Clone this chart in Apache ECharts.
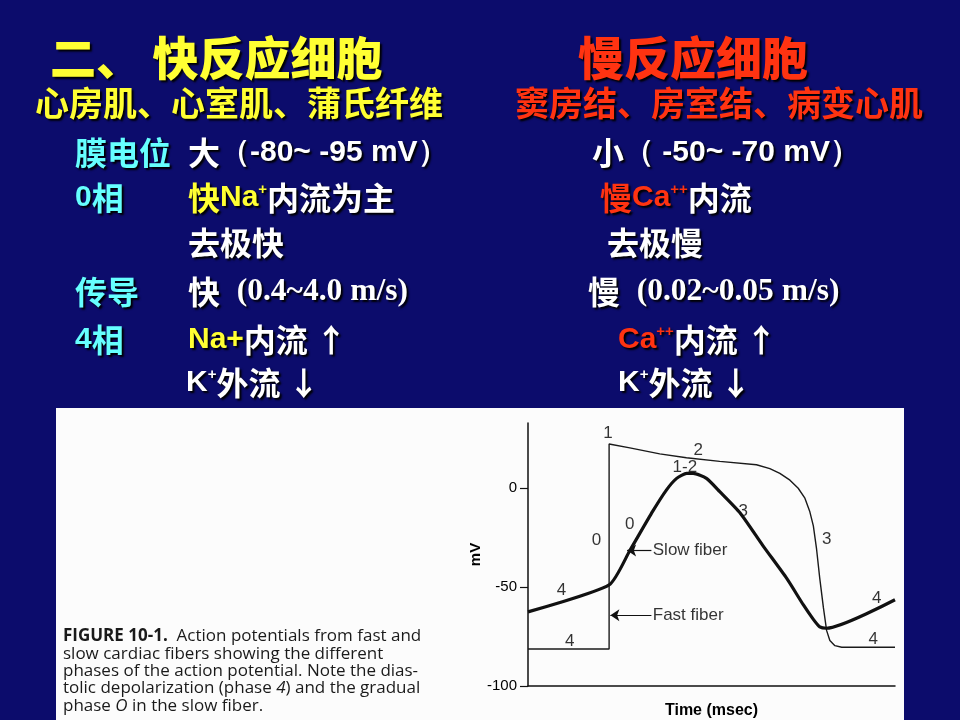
<!DOCTYPE html>
<html>
<head>
<meta charset="utf-8">
<script src="https://cdn.jsdelivr.net/npm/echarts@6/dist/echarts.min.js"></script>
<style>
  html, body { margin: 0; padding: 0; background: #0c0c6c; }
  #main { width: 960px; height: 720px; }
</style>
</head>
<body>
<div id="main"></div>
<script>
/* 快反应细胞（fast fiber）动作电位: 时间(msec) / 膜电位(mV) */
const fastTime = [0, 88.4, 88.4, 111, 143.6, 172.7, 209, 249, 263.6, 274.5, 285.5, 294.5, 301.8, 307, 311, 314.5, 318, 322, 325.5, 329, 334.5, 342, 400];
const fastMV   = [-81.3, -81.3, 22.4, 20.4, 17.4, 15.4, 13.6, 11.9, 9.9, 7.5, 4.1, 0, -5, -11.6, -19, -30.7, -45.6, -60.5, -72, -77, -79.6, -80.4, -80.4];

/* 慢反应细胞（slow fiber） */
const slowTime = [0, 88.4, 111, 136, 151, 162, 173, 180, 194.5, 209, 231, 256, 282, 300, 311, 318, 325.5, 400];
const slowMV   = [-62.5, -48.9, -31.5, -11.6, -0.8, 5, 7.5, 7.5, 5, -1.7, -12.4, -29, -45.6, -58.9, -66.3, -70.1, -70.8, -56.4];

const yTicks = [-100, -50, 0];

/* 相位标注 [t, mV, 文字] */
const phaseLabels = [
  [87.3, 27.7, '1'], [185.5, 19.4, '2'], [171, 10.4, '1-2'],
  [74.5, -26.5, '0'], [111, -18.2, '0'], [234.5, -11.6, '3'], [325.5, -25.7, '3'],
  [36.4, -51.4, '4'], [45.5, -77.4, '4'], [380, -55.6, '4'], [376.4, -76.3, '4']
];
/* 箭头 [起点t, 终点t, mV, 文字] */
const arrows = [
  [134.5, 108, -31.5, 'Slow fiber'],
  [134.5, 89.8, -64.2, 'Fast fiber']
];

const captionLines = [
  '{b|FIGURE 10-1.}  Action potentials from fast and',
  'slow cardiac fibers showing the different',
  'phases of the action potential. Note the dias-',
  'tolic depolarization (phase {i|4}) and the gradual',
  'phase {i|O} in the slow fiber.'
];

const CJK = '"Noto Sans CJK SC", sans-serif';
const NARROW = '"Liberation Sans Narrow", "Liberation Sans", Arial, sans-serif';
const shadow = { textShadowColor: '#000', textShadowBlur: 2, textShadowOffsetX: 2, textShadowOffsetY: 2 };

function tok(color, font, size, extra) {
  return Object.assign({ fill: color, fontFamily: font, fontSize: size, fontWeight: 'bold' }, shadow, extra || {});
}
const rich = {
  c:   tok('#66ffff', CJK, 32),
  cl:  tok('#66ffff', NARROW, 30),
  w:   tok('#ffffff', CJK, 32),
  wl:  tok('#ffffff', NARROW, 30),
  ws:  tok('#ffffff', NARROW, 15, { verticalAlign: 'top' }),
  y:   tok('#ffff33', CJK, 32),
  yl:  tok('#ffff33', NARROW, 30),
  ys:  tok('#ffff33', NARROW, 15, { verticalAlign: 'top' }),
  r:   tok('#ff3311', CJK, 32),
  rl:  tok('#ff3311', NARROW, 30),
  rs:  tok('#ff3311', NARROW, 15, { verticalAlign: 'top' }),
  ser: tok('#ffffff', '"Liberation Serif", "Times New Roman", serif', 31.5)
};

function row(x, y, text) {
  return { type: 'text', x: x, y: y, z: 10,
    style: Object.assign({ text: text, rich: rich, verticalAlign: 'middle' }, shadow) };
}
function head(x, y, text, color, size, weight) {
  return { type: 'text', x: x, y: y, z: 10,
    style: Object.assign({ text: text, fill: color, fontFamily: CJK, fontSize: size, fontWeight: weight, verticalAlign: 'middle' }, shadow) };
}

const slideText = [
  head(50, 58, '二、 快反应细胞', '#ffff33', 46, 900),
  head(578, 58, '慢反应细胞', '#ff3311', 46, 900),
  head(35, 103, '心房肌、心室肌、蒲氏纤维', '#ffff33', 34, 'bold'),
  head(515, 103, '窦房结、房室结、病变心肌', '#ff3311', 34, 'bold'),
  row(75, 153, '{c|膜电位}'),
  row(188, 153, '{w|大}{wl|（-80~ -95 mV）}'),
  row(592, 153, '{w|小}{wl|（ -50~ -70 mV）}'),
  row(75, 198, '{cl|0}{c|相}'),
  row(188, 198, '{y|快}{yl|Na}{ys|+}{w|内流为主}'),
  row(600, 198, '{r|慢}{rl|Ca}{rs|++}{w|内流}'),
  row(188, 243, '{w|去极快}'),
  row(607, 243, '{w|去极慢}'),
  row(75, 292, '{c|传导}'),
  row(188, 292, '{w|快}{wl|  }{ser|(0.4~4.0 m/s)}'),
  row(588, 292, '{w|慢}{wl|  }{ser|(0.02~0.05 m/s)}'),
  row(75, 340, '{cl|4}{c|相}'),
  row(188, 340, '{yl|Na+}{w|内流 ↑}'),
  row(618, 340, '{rl|Ca}{rs|++}{w|内流 ↑}'),
  row(186, 383, '{wl|K}{ws|+}{w|外流 ↓}'),
  row(618, 383, '{wl|K}{ws|+}{w|外流 ↓}')
];

const capFont = '"Open Sans", sans-serif';
const caption = {
  type: 'text', x: 63, y: 628, z: 10,
  style: {
    text: captionLines.join('\n'),
    fill: '#1a1a1a', fontFamily: capFont, fontSize: 17, lineHeight: 17.3,
    rich: {
      b: { fontWeight: 'bold', fontFamily: capFont, fontSize: 17, fill: '#1a1a1a' },
      i: { fontStyle: 'italic', fontFamily: capFont, fontSize: 17, fill: '#1a1a1a' }
    }
  }
};

const labelFont = 'Liberation Sans, Arial, sans-serif';
const chart = echarts.init(document.getElementById('main'));
chart.setOption({
  backgroundColor: '#0c0c6c',
  animation: false,
  graphic: [
    { type: 'rect', shape: { x: 56, y: 408, width: 848, height: 312 }, style: { fill: '#fcfcfc' }, z: -10 },
    caption
  ].concat(slideText),
  grid: { left: 528, right: 65, top: 423, bottom: 29, containLabel: false },
  xAxis: {
    type: 'value', min: 0, max: 400,
    name: 'Time (msec)', nameLocation: 'middle', nameGap: 17,
    nameTextStyle: { color: '#000', fontWeight: 'bold', fontSize: 16, fontFamily: labelFont },
    axisLine: { onZero: false, lineStyle: { color: '#111', width: 1.5 } },
    axisTick: { show: false }, axisLabel: { show: false }, splitLine: { show: false }
  },
  yAxis: {
    type: 'value', min: -100, max: 33,
    name: 'mV', nameLocation: 'middle', nameGap: 32, nameRotate: 90,
    nameTextStyle: { color: '#000', fontWeight: 'bold', fontSize: 15, fontFamily: labelFont },
    axisLine: { show: true, lineStyle: { color: '#111', width: 1.5 } },
    axisTick: { show: true, length: 8, customValues: yTicks, lineStyle: { color: '#111', width: 1.2 } },
    axisLabel: { customValues: yTicks, color: '#000', fontSize: 15, margin: 11, fontFamily: labelFont },
    splitLine: { show: false }
  },
  series: [
    {
      name: 'Fast fiber', type: 'line', symbol: 'none',
      data: fastTime.map((t, i) => [t, fastMV[i]]),
      lineStyle: { color: '#1a1a1a', width: 1.4 }
    },
    {
      name: 'Slow fiber', type: 'line', symbol: 'none', smooth: 0.2,
      data: slowTime.map((t, i) => [t, slowMV[i]]),
      lineStyle: { color: '#111', width: 3.2 },
      markLine: {
        silent: true, symbol: ['none', 'arrow'], symbolSize: 9,
        lineStyle: { color: '#111', width: 1.2, type: 'solid' },
        label: { show: false },
        data: arrows.map(a => [{ coord: [a[0], a[2]] }, { coord: [a[1], a[2]] }])
      }
    },
    {
      type: 'scatter', symbolSize: 0, silent: true,
      label: {
        show: true, position: 'inside', color: '#000', fontSize: 17,
        fontFamily: labelFont, textBorderWidth: 0,
        formatter: p => p.value[2]
      },
      data: phaseLabels.map(d => ({ value: d })).concat(arrows.map(a => ({
        value: [a[0] + 1.5, a[2], a[3]],
        label: { position: 'right', distance: 0 }
      })))
    }
  ]
});
</script>
</body>
</html>
